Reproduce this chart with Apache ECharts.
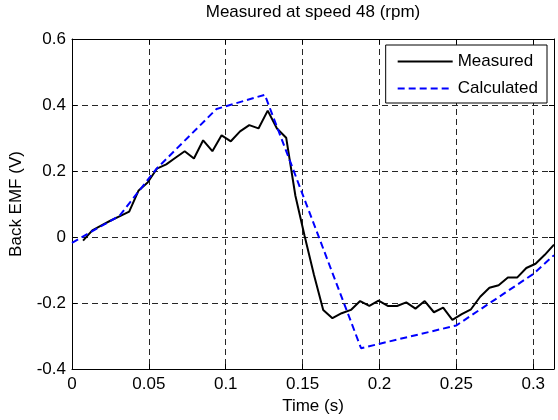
<!DOCTYPE html>
<html>
<head>
<meta charset="utf-8">
<script src="https://cdn.jsdelivr.net/npm/echarts@6/dist/echarts.min.js"></script>
<style>
  html, body { margin: 0; padding: 0; background: #fff; }
  #chart { width: 558px; height: 420px; }
</style>
</head>
<body>
<div id="chart"></div>
<script>
  // measured samples
  var measTime = [0.0072, 0.0132, 0.0192, 0.0252, 0.0312, 0.0372, 0.0432, 0.0492, 0.0552, 0.0613,
    0.0673, 0.0733, 0.0793, 0.0853, 0.0913, 0.0973, 0.1033, 0.1093, 0.1153, 0.1213,
    0.1273, 0.1333, 0.1393, 0.1453, 0.1513, 0.1574, 0.1634, 0.1694, 0.1754, 0.1814,
    0.1874, 0.1934, 0.1994, 0.2054, 0.2114, 0.2174, 0.2234, 0.2294, 0.2354, 0.2414,
    0.2474, 0.2535, 0.2595, 0.2655, 0.2715, 0.2775, 0.2835, 0.2895, 0.2955, 0.3015,
    0.3075, 0.3135];
  var measEmf = [-0.011, 0.020, 0.035, 0.050, 0.063, 0.077, 0.140, 0.165, 0.207, 0.220,
    0.240, 0.260, 0.238, 0.293, 0.260, 0.308, 0.290, 0.320, 0.339, 0.329,
    0.383, 0.329, 0.301, 0.125, 0.003, -0.115, -0.221, -0.246, -0.231, -0.221,
    -0.194, -0.209, -0.193, -0.209, -0.209, -0.198, -0.217, -0.194, -0.228, -0.214,
    -0.251, -0.234, -0.219, -0.181, -0.154, -0.146, -0.123, -0.123, -0.094, -0.081,
    -0.054, -0.023];

  // calculated curve
  var calcTime = [0, 0.031, 0.055, 0.094, 0.1254, 0.188, 0.25, 0.30, 0.3135];
  var calcEmf = [-0.018, 0.065, 0.207, 0.388, 0.431, -0.337, -0.268, -0.112, -0.055];

  var xTicks = [0, 0.05, 0.1, 0.15, 0.2, 0.25, 0.3];
  var yTicks = [-0.4, -0.2, 0, 0.2, 0.4, 0.6];

  function pairs(xs, ys) {
    var out = [];
    xs.forEach(function (x, i) { out.push([x, ys[i]]); });
    return out;
  }

  var font = 'Liberation Sans, Arial, sans-serif';
  var fs = 17;
  var gridLine = { show: true, lineStyle: { color: '#262626', type: [6, 4], width: 1 } };

  var chart = echarts.init(document.getElementById('chart'));
  chart.setOption({
    animation: false,
    textStyle: { fontFamily: font },
    title: {
      text: 'Measured at speed 48 (rpm)',
      left: 313, top: 4, textAlign: 'center', padding: 0,
      textStyle: { fontSize: fs, fontWeight: 'normal', color: '#000', fontFamily: font }
    },
    legend: {
      orient: 'vertical',
      right: 11, top: 45,
      padding: [8, 9, 6, 11],
      itemGap: 10,
      itemWidth: 55, itemHeight: 14,
      backgroundColor: '#fff',
      borderColor: '#000', borderWidth: 1,
      borderRadius: 0,
      itemStyle: { opacity: 0 },
      textStyle: { fontSize: fs, color: '#000', fontFamily: font },
      data: ['Measured', 'Calculated']
    },
    grid: { left: 72, right: 4, top: 39, bottom: 49 },
    xAxis: [{
      type: 'value', min: 0, max: 0.3135, interval: 0.05,
      name: 'Time (s)', nameLocation: 'middle', nameGap: 29,
      nameTextStyle: { fontSize: fs, color: '#000', fontFamily: font },
      axisLine: { show: true, onZero: false, lineStyle: { color: '#000', width: 1 } },
      axisTick: { show: true, inside: true, length: 5, lineStyle: { color: '#000' } },
      axisLabel: {
        margin: 7, fontSize: fs, color: '#000', showMaxLabel: false,
        formatter: function (v) { return xTicks.indexOf(+v.toFixed(4)) >= 0 ? String(+v.toFixed(4)) : ''; }
      },
      splitLine: gridLine
    }, {
      type: 'value', position: 'top', min: 0, max: 0.3135, interval: 0.05,
      axisLine: { show: true, onZero: false, lineStyle: { color: '#000', width: 1 } },
      axisTick: { show: true, inside: true, length: 5, lineStyle: { color: '#000' } },
      axisLabel: { show: false },
      splitLine: { show: false }
    }],
    yAxis: [{
      type: 'value', min: yTicks[0], max: yTicks[yTicks.length - 1], interval: 0.2,
      name: 'Back EMF (V)', nameLocation: 'middle', nameGap: 47,
      nameTextStyle: { fontSize: fs, color: '#000', fontFamily: font },
      axisLine: { show: true, onZero: false, lineStyle: { color: '#000', width: 1 } },
      axisTick: { show: true, inside: true, length: 5, lineStyle: { color: '#000' } },
      axisLabel: { margin: 6, fontSize: fs, color: '#000' },
      splitLine: gridLine
    }, {
      type: 'value', position: 'right', min: -0.4, max: 0.6, interval: 0.2,
      axisLine: { show: true, onZero: false, lineStyle: { color: '#000', width: 1 } },
      axisTick: { show: true, inside: true, length: 5, lineStyle: { color: '#000' } },
      axisLabel: { show: false },
      splitLine: { show: false }
    }],
    series: [{
      name: 'Measured', type: 'line', symbol: 'none',
      data: pairs(measTime, measEmf),
      lineStyle: { color: '#000', width: 2 },
      itemStyle: { color: '#000' },
      z: 3
    }, {
      name: 'Calculated', type: 'line', symbol: 'none',
      data: pairs(calcTime, calcEmf),
      lineStyle: { color: '#0000ff', width: 2, type: [7, 4] },
      itemStyle: { color: '#0000ff' },
      z: 4
    }]
  });
</script>
</body>
</html>
